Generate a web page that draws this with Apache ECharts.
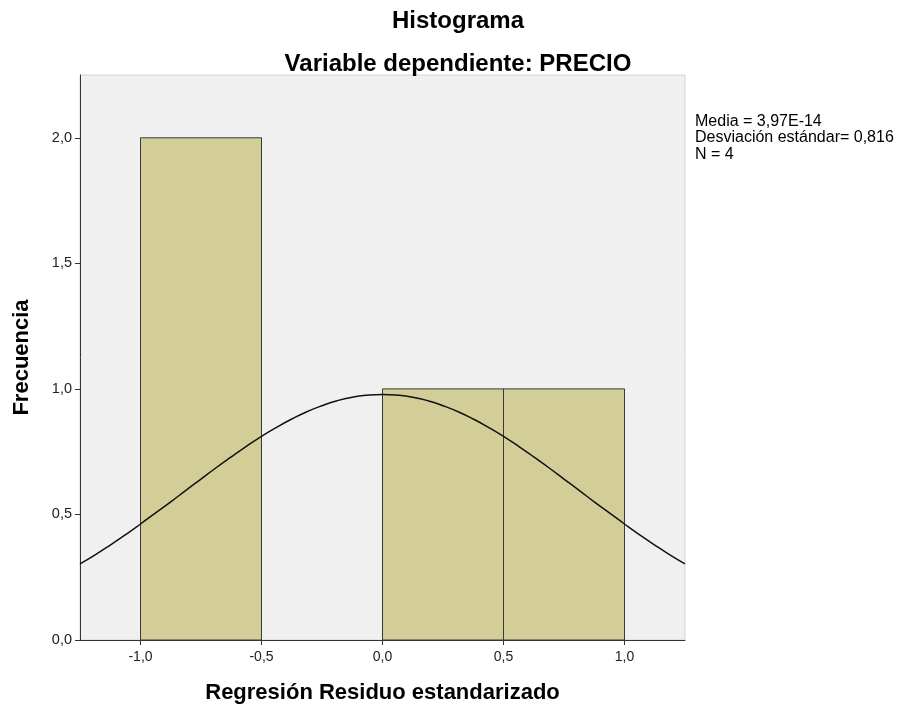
<!DOCTYPE html>
<html>
<head>
<meta charset="utf-8">
<script src="https://cdn.jsdelivr.net/npm/echarts@6/dist/echarts.min.js"></script>
<style>html,body{margin:0;padding:0;background:#fff}#c{width:898px;height:711px}</style>
</head>
<body>
<div id="c"></div>
<script>
// Histogram bins: [start, end]
var binStarts = [-1.0, -0.5, 0.0, 0.5];
var binEnds = [-0.5, 0.0, 0.5, 1.0];
var binCounts = [2, 0, 1, 1];
// Normal curve
var curveX = [-1.25, -1.1875, -1.125, -1.0625, -1.0, -0.9375, -0.875, -0.8125, -0.75, -0.6875, -0.625, -0.5625, -0.5, -0.4375, -0.375, -0.3125, -0.25, -0.1875, -0.125, -0.0625,
              0.0, 0.0625, 0.125, 0.1875, 0.25, 0.3125, 0.375, 0.4375, 0.5, 0.5625, 0.625, 0.6875, 0.75, 0.8125, 0.875, 0.9375, 1.0, 1.0625, 1.125, 1.1875, 1.25];
var curveY = [0.303, 0.339, 0.378, 0.419, 0.462, 0.506, 0.550, 0.596, 0.641, 0.686, 0.729, 0.771, 0.811, 0.847, 0.880, 0.909, 0.933, 0.953, 0.967, 0.975,
              0.978, 0.975, 0.967, 0.953, 0.933, 0.909, 0.880, 0.847, 0.811, 0.771, 0.729, 0.686, 0.641, 0.596, 0.550, 0.506, 0.462, 0.419, 0.378, 0.339, 0.303];
var xTicks = [-1.0, -0.5, 0.0, 0.5, 1.0];
var yTicks = [0, 0.5, 1.0, 1.5, 2.0];
var statsLines = ['Media = 3,97E-14', 'Desviación estándar= 0,816', 'N = 4'];

var font = '"Liberation Sans", Arial, sans-serif';
var bars = binStarts.map(function (s, i) { return [s, binEnds[i], binCounts[i]]; });
var curve = curveX.map(function (x, i) { return [x, curveY[i]]; });
function fmt(v) { return v.toFixed(1).replace('.', ','); }

var chart = echarts.init(document.getElementById('c'));
chart.setOption({
  backgroundColor: '#ffffff',
  animation: false,
  textStyle: { fontFamily: font },
  title: [
    { text: 'Histograma', left: 453, top: 4, textAlign: 'center',
      textStyle: { fontFamily: font, fontSize: 24, fontWeight: 'bold', color: '#000' } },
    { text: 'Variable dependiente: PRECIO', left: 453, top: 47, textAlign: 'center',
      textStyle: { fontFamily: font, fontSize: 24, fontWeight: 'bold', color: '#000' } }
  ],
  grid: { left: 80, right: 213, top: 75, bottom: 71, show: true,
          backgroundColor: '#f0f0f0', borderColor: '#d4d4d4', borderWidth: 1 },
  xAxis: {
    type: 'value', min: -1.25, max: 1.25,
    name: 'Regresión Residuo estandarizado', nameLocation: 'middle', nameGap: 42,
    nameTextStyle: { fontFamily: font, fontSize: 22, fontWeight: 'bold', color: '#000' },
    axisLine: { show: true, onZero: false, lineStyle: { color: '#333', width: 1 } },
    axisTick: { show: true, length: 5, customValues: xTicks, lineStyle: { color: '#333' } },
    axisLabel: { customValues: xTicks, formatter: fmt, fontSize: 14, color: '#222', margin: 10, fontFamily: font },
    splitLine: { show: false }
  },
  yAxis: {
    type: 'value', min: 0, max: 2.25,
    name: 'Frecuencia', nameLocation: 'middle', nameGap: 47,
    nameTextStyle: { fontFamily: font, fontSize: 22, fontWeight: 'bold', color: '#000' },
    axisLine: { show: true, onZero: false, lineStyle: { color: '#333', width: 1 } },
    axisTick: { show: true, length: 5, customValues: yTicks, lineStyle: { color: '#333' } },
    axisLabel: { customValues: yTicks, formatter: fmt, fontSize: 14.5, color: '#222', margin: 8, fontFamily: font },
    splitLine: { show: false }
  },
  series: [
    {
      type: 'custom',
      data: bars,
      renderItem: function (params, api) {
        if (api.value(2) <= 0) return;
        var p0 = api.coord([api.value(0), api.value(2)]);
        var p1 = api.coord([api.value(1), 0]);
        return {
          type: 'rect',
          shape: { x: p0[0], y: p0[1], width: p1[0] - p0[0], height: p1[1] - p0[1] },
          style: { fill: '#d3ce97', stroke: '#3a3a3a', lineWidth: 1 }
        };
      },
      encode: { x: [0, 1], y: 2 },
      z: 2
    },
    {
      type: 'line',
      data: curve,
      smooth: true,
      showSymbol: false,
      symbol: 'none',
      lineStyle: { color: '#111', width: 1.5 },
      z: 3
    }
  ],
  graphic: [
    { type: 'text', left: 695, top: 113,
      style: { text: statsLines.join('\n'), fontFamily: font, fontSize: 16, lineHeight: 16.5, fill: '#000' } }
  ]
});
</script>
</body>
</html>
